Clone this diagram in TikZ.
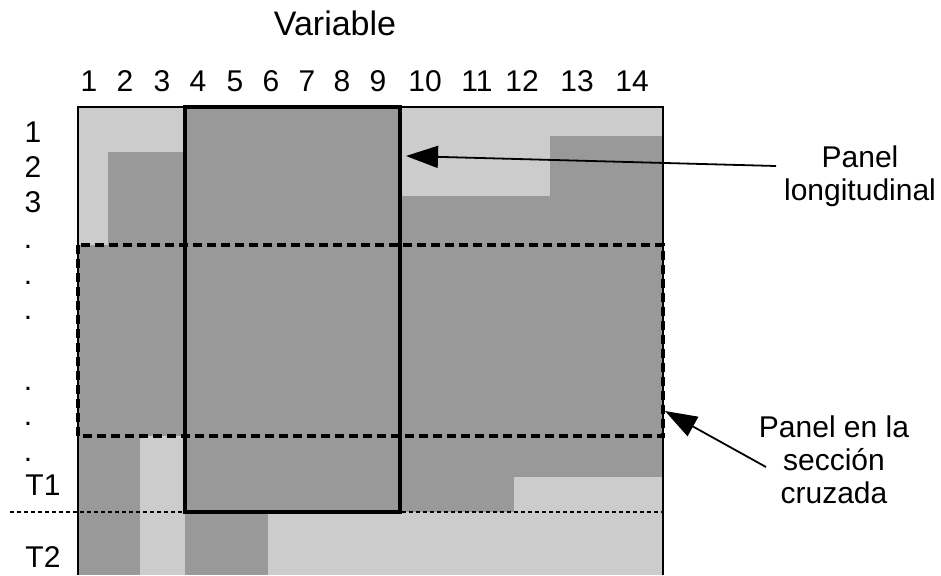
\documentclass[tikz,border=0pt]{standalone}
\usepackage{fontspec}
\setmainfont{Liberation Sans}
\usetikzlibrary{arrows.meta}
\definecolor{lightcell}{HTML}{CCCCCC}
\definecolor{darkcell}{HTML}{999999}
\begin{document}
\begin{tikzpicture}[x=1pt,y=-1pt,
    lbl/.style={inner sep=0pt,anchor=base,font=\fontsize{30}{33}\selectfont},
    pointer/.style={-{Triangle[length=32pt,width=22pt]},line width=1.8pt}]
    \tikzstyle{every node}+=[inner sep=0pt]
    \useasboundingbox (0,0) rectangle (941,575);
    \fill [darkcell] (78,107) rectangle (663,575);
    \fill [lightcell] (78,107) rectangle (185,152);
    \fill [lightcell] (78,152) rectangle (108,245);
    \fill [lightcell] (400,107) rectangle (663,136);
    \fill [lightcell] (400,136) rectangle (550,196);
    \fill [lightcell] (140,436) rectangle (185,575);
    \fill [lightcell] (514,477) rectangle (663,512);
    \fill [lightcell] (268,512) rectangle (663,575);
    \draw [black,line width=1.6pt] (78,575) -- (78,107) -- (663,107) -- (663,575);
    \draw [black,line width=2pt,dash pattern=on 4pt off 3pt] (10,512) -- (663,512);
    \draw [black,line width=4pt,dash pattern=on 9pt off 5pt] (78,245) rectangle (663,436);
    \draw [black,line width=4.5pt] (185,107) rectangle (400,512);
    \node [lbl,font=\fontsize{34}{38}\selectfont] (title) at (335,36) {Variable};
    \node [lbl] (c1) at (89,92) {1};
    \node [lbl] (c2) at (125,92) {2};
    \node [lbl] (c3) at (162,92) {3};
    \node [lbl] (c4) at (198,92) {4};
    \node [lbl] (c5) at (235,92) {5};
    \node [lbl] (c6) at (271,92) {6};
    \node [lbl] (c7) at (307,92) {7};
    \node [lbl] (c8) at (342,92) {8};
    \node [lbl] (c9) at (378,92) {9};
    \node [lbl] (c10) at (425,92) {10};
    \node [lbl] (c11) at (477,92) {11};
    \node [lbl] (c12) at (522,92) {12};
    \node [lbl] (c13) at (577,92) {13};
    \node [lbl] (c14) at (632,92) {14};
    \node [lbl] (r1) at (33,142) {1};
    \node [lbl] (r2) at (33,177) {2};
    \node [lbl] (r3) at (33,212) {3};
    \node [lbl] (d1) at (28,248) {.};
    \node [lbl] (d2) at (28,284) {.};
    \node [lbl] (d3) at (28,319) {.};
    \node [lbl] (d4) at (28,390) {.};
    \node [lbl] (d5) at (28,425) {.};
    \node [lbl] (d6) at (28,461) {.};
    \node [lbl] (t1) at (43,495) {T1};
    \node [lbl] (t2) at (43,567) {T2};
    \node [lbl,anchor=north,align=center] (longi) at (860,146) {Panel\\longitudinal};
    \node [lbl,anchor=north,align=center] (cruz) at (834,416) {Panel en la\\sección\\cruzada};
    \coordinate (longifrom) at (776,166);
    \coordinate (longito) at (406,156);
    \coordinate (cruzfrom) at (766,467);
    \coordinate (cruzto) at (665,411);
    \draw [pointer] (longifrom) -- (longito);
    \draw [pointer] (cruzfrom) -- (cruzto);
\end{tikzpicture}
\end{document}
